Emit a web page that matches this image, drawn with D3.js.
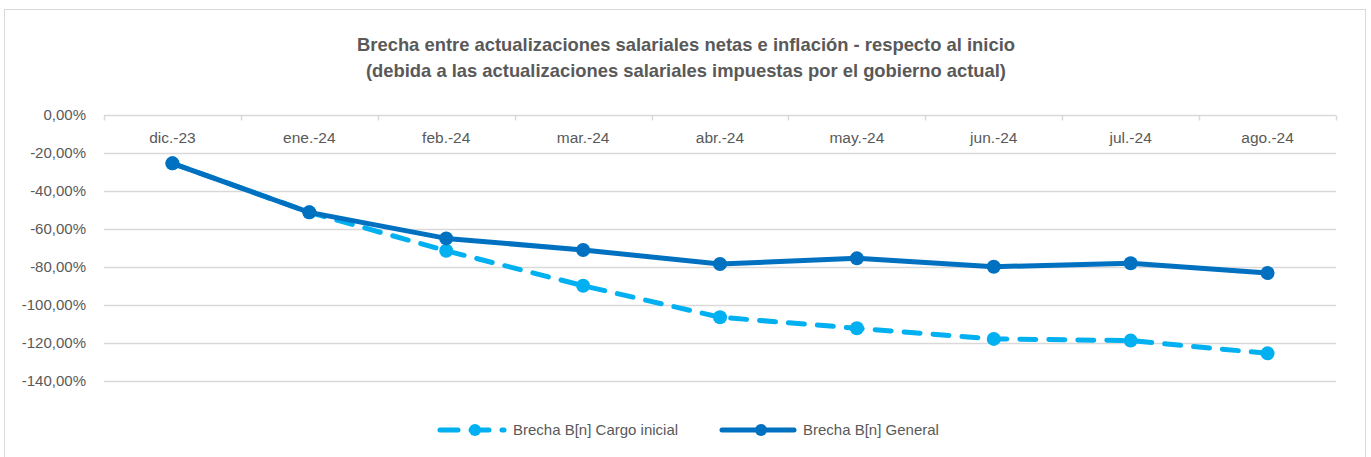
<!DOCTYPE html>
<html>
<head>
<meta charset="utf-8">
<script src="https://cdn.jsdelivr.net/npm/d3@7"></script>
<style>
  body { margin: 0; background: #fff; }
  svg { display: block; font-family: "Liberation Sans", Arial, sans-serif; }
</style>
</head>
<body>
<div id="vis"></div>
<script>
// Data
var months = ["dic.-23", "ene.-24", "feb.-24", "mar.-24", "abr.-24", "may.-24", "jun.-24", "jul.-24", "ago.-24"];
var cargoInicial = [-25.6, -51.4, -71.6, -90.0, -106.6, -112.4, -118.0, -118.9, -125.6];
var general = [-25.6, -51.4, -65.1, -71.2, -78.6, -75.6, -80.0, -78.2, -83.3];
var yTicks = [0, -20, -40, -60, -80, -100, -120, -140];
var titleLines = [
    "Brecha entre actualizaciones salariales netas e inflación - respecto al inicio",
    "(debida a las actualizaciones salariales impuestas por el gobierno actual)"
];
var seriesNames = ["Brecha B[n] Cargo inicial", "Brecha B[n] General"];

var width = 1371, height = 457;
var textColor = "#595959", gridColor = "#d9d9d9";
var lightBlue = "#00b0f0", darkBlue = "#0070c0";

var svg = d3.select("#vis").append("svg")
    .attr("width", width)
    .attr("height", height);

// chart area border
svg.append("rect")
    .attr("x", 4.5).attr("y", 9.5)
    .attr("width", 1361).attr("height", 460)
    .attr("fill", "none")
    .attr("stroke", gridColor);

// scales
var x = d3.scaleBand().domain(months).range([104, 1336]);
var y = d3.scaleLinear().domain([-140, 0]).range([380.7, 114.7]);

var fmt = function(v) { return v.toFixed(2).replace(".", ",") + "%"; };

// title (condensed look of the original)
var titleWidths = [658, 640];
svg.append("g").selectAll("text")
    .data(titleLines)
    .enter().append("text")
    .attr("x", 686)
    .attr("y", (d, i) => 51 + i * 26)
    .attr("text-anchor", "middle")
    .attr("font-size", 19)
    .attr("font-weight", "bold")
    .attr("fill", textColor)
    .attr("textLength", (d, i) => titleWidths[i])
    .attr("lengthAdjust", "spacingAndGlyphs")
    .text(d => d);

// gridlines
svg.append("g")
    .selectAll("line")
    .data(yTicks)
    .enter().append("line")
    .attr("x1", 104).attr("x2", 1336)
    .attr("y1", d => Math.round(y(d)) + 0.5)
    .attr("y2", d => Math.round(y(d)) + 0.5)
    .attr("stroke", gridColor)
    .attr("stroke-width", 1.5);

// y axis labels
svg.append("g")
    .selectAll("text")
    .data(yTicks)
    .enter().append("text")
    .attr("x", 86)
    .attr("y", d => y(d) + 5)
    .attr("text-anchor", "end")
    .attr("font-size", 15)
    .attr("fill", textColor)
    .text(fmt);

// category axis sits on the 0% line
var xAxis = svg.append("g")
    .attr("transform", "translate(0," + (Math.round(y(0)) + 0.5) + ")");
xAxis.selectAll("line")
    .data(d3.range(months.length + 1))
    .enter().append("line")
    .attr("x1", i => Math.round(104 + i * x.step()) + 0.5)
    .attr("x2", i => Math.round(104 + i * x.step()) + 0.5)
    .attr("y1", 0).attr("y2", 5)
    .attr("stroke", gridColor)
    .attr("stroke-width", 1.5);
xAxis.selectAll("text")
    .data(months)
    .enter().append("text")
    .attr("x", d => x(d) + x.bandwidth() / 2)
    .attr("y", 27)
    .attr("text-anchor", "middle")
    .attr("font-size", 15.5)
    .attr("fill", textColor)
    .text(d => d);

var line = d3.line()
    .x((d, i) => x(months[i]) + x.bandwidth() / 2)
    .y(d => y(d));

// series: dashed light blue first, solid dark blue on top
var series = [
    { name: seriesNames[0], values: cargoInicial, color: lightBlue, dash: "16,13" },
    { name: seriesNames[1], values: general, color: darkBlue, dash: null }
];

series.forEach(function(s) {
    var g = svg.append("g");
    g.append("path")
        .datum(s.values)
        .attr("d", line)
        .attr("fill", "none")
        .attr("stroke", s.color)
        .attr("stroke-width", 5)
        .attr("stroke-linejoin", "round")
        .attr("stroke-linecap", "round")
        .attr("stroke-dasharray", s.dash);
    g.selectAll("circle")
        .data(s.values)
        .enter().append("circle")
        .attr("cx", (d, i) => x(months[i]) + x.bandwidth() / 2)
        .attr("cy", d => y(d))
        .attr("r", 7)
        .attr("fill", s.color);
});

// legend
var legendItems = [
    { x: 440, len: 64, text: seriesNames[0], color: lightBlue, dash: "16,13" },
    { x: 722, len: 72, text: seriesNames[1], color: darkBlue, dash: null }
];
var legend = svg.append("g").attr("transform", "translate(0,430)");
legendItems.forEach(function(l) {
    legend.append("line")
        .attr("x1", l.x).attr("x2", l.x + l.len)
        .attr("y1", 0).attr("y2", 0)
        .attr("stroke", l.color)
        .attr("stroke-width", 5)
        .attr("stroke-linecap", "round")
        .attr("stroke-dasharray", l.dash ? "18,13" : null);
    legend.append("circle")
        .attr("cx", l.x + l.len / 2 + 3)
        .attr("cy", 0)
        .attr("r", 6)
        .attr("fill", l.color);
    legend.append("text")
        .attr("x", l.x + l.len + 9)
        .attr("y", 5)
        .attr("font-size", 15)
        .attr("fill", textColor)
        .text(l.text);
});
</script>
</body>
</html>
